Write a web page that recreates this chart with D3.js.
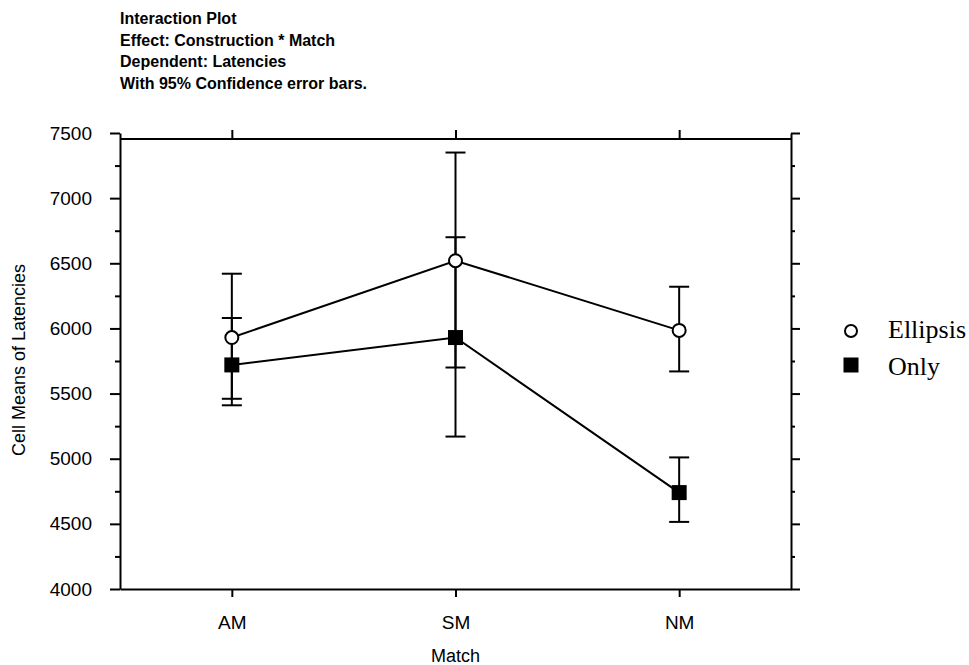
<!DOCTYPE html>
<html>
<head>
<meta charset="utf-8">
<script src="https://d3js.org/d3.v7.min.js"></script>
<style>
  body { margin: 0; background: #fff; }
  svg { display: block; }
  .axis text { font: 19px "Liberation Sans", Arial, sans-serif; fill: #000; }
  .axis path, .axis line { stroke: #000; stroke-width: 2px; fill: none; }
  .title { font: bold 16px "Liberation Sans", Arial, sans-serif; }
  .label { font: 18px "Liberation Sans", Arial, sans-serif; }
  .legend text { font: 26px "Liberation Serif", "Times New Roman", serif; }
</style>
</head>
<body>
<div id="chart"></div>
<script>
// data
var matches = ["AM", "SM", "NM"];
var seriesNames = ["Ellipsis", "Only"];
var ellipsisMean = [5930, 6520, 5985];
var ellipsisLow  = [5460, 5700, 5670];
var ellipsisHigh = [6420, 7350, 6320];
var onlyMean = [5720, 5930, 4740];
var onlyLow  = [5410, 5170, 4515];
var onlyHigh = [6080, 6700, 5010];
var yMajor = [4000, 4500, 5000, 5500, 6000, 6500, 7000, 7500];
var yMinor = [4250, 4750, 5250, 5750, 6250, 6750, 7250];
var titleLines = ["Interaction Plot", "Effect: Construction * Match",
                  "Dependent: Latencies", "With 95% Confidence error bars."];

var W = 969, H = 665;
var plotL = 120, plotR = 791, plotT = 133, plotB = 589;

var svg = d3.select("#chart").append("svg")
    .attr("width", W).attr("height", H);

var x = d3.scalePoint().domain(matches).range([plotL, plotR]).padding(0.5);
var y = d3.scaleLinear().domain([4000, 7500]).range([plotB, plotT]);

// title block
svg.selectAll(".title").data(titleLines).enter().append("text")
    .attr("class", "title")
    .attr("x", 120)
    .attr("y", function(d, i) { return 24 + i * 21.5; })
    .text(function(d) { return d; });

// frame top line (sits a little below the 7500 tick like the original)
svg.append("line")
    .attr("x1", plotL).attr("x2", plotR)
    .attr("y1", plotT + 6).attr("y2", plotT + 6)
    .attr("stroke", "#000").attr("stroke-width", 2);

// top ticks at categories
svg.append("g").attr("class", "axis")
    .attr("transform", "translate(0," + (plotT + 6) + ")")
    .call(d3.axisTop(x).tickSize(9).tickFormat("").tickSizeOuter(0))
    .select(".domain").remove();

// left axis
svg.append("g").attr("class", "axis")
    .attr("transform", "translate(" + plotL + ",0)")
    .call(d3.axisLeft(y).tickValues(yMajor).tickSize(10).tickPadding(18)
          .tickFormat(d3.format("d")).tickSizeOuter(0));
svg.append("g").attr("class", "axis")
    .attr("transform", "translate(" + plotL + ",0)")
    .call(d3.axisLeft(y).tickValues(yMinor).tickSize(5).tickFormat("").tickSizeOuter(0))
    .select(".domain").remove();

// right axis
svg.append("g").attr("class", "axis")
    .attr("transform", "translate(" + plotR + ",0)")
    .call(d3.axisRight(y).tickValues(yMajor).tickSize(9).tickFormat("").tickSizeOuter(0));
svg.append("g").attr("class", "axis")
    .attr("transform", "translate(" + plotR + ",0)")
    .call(d3.axisRight(y).tickValues(yMinor).tickSize(4).tickFormat("").tickSizeOuter(0))
    .select(".domain").remove();

// bottom axis
svg.append("g").attr("class", "axis")
    .attr("transform", "translate(0," + plotB + ")")
    .call(d3.axisBottom(x).tickSize(8).tickPadding(19).tickSizeOuter(0));

// axis titles
svg.append("text").attr("class", "label")
    .attr("text-anchor", "middle")
    .attr("transform", "translate(25,360) rotate(-90)")
    .text("Cell Means of Latencies");
svg.append("text").attr("class", "label")
    .attr("text-anchor", "middle")
    .attr("x", (plotL + plotR) / 2).attr("y", 662)
    .text("Match");

var series = [
  { name: seriesNames[0], mean: ellipsisMean, low: ellipsisLow, high: ellipsisHigh, shape: "circle" },
  { name: seriesNames[1], mean: onlyMean, low: onlyLow, high: onlyHigh, shape: "square" }
];

var line = d3.line()
    .x(function(d, i) { return x(matches[i]); })
    .y(function(d) { return y(d); });

// error bars
series.forEach(function(s) {
  var g = svg.append("g");
  matches.forEach(function(m, i) {
    var cx = x(m);
    g.append("line").attr("x1", cx).attr("x2", cx)
        .attr("y1", y(s.low[i])).attr("y2", y(s.high[i]))
        .attr("stroke", "#000").attr("stroke-width", 2);
    [s.low[i], s.high[i]].forEach(function(v) {
      g.append("line").attr("x1", cx - 10).attr("x2", cx + 10)
          .attr("y1", y(v)).attr("y2", y(v))
          .attr("stroke", "#000").attr("stroke-width", 2);
    });
  });
});

// lines
series.forEach(function(s) {
  svg.append("path").datum(s.mean)
      .attr("d", line)
      .attr("fill", "none").attr("stroke", "#000").attr("stroke-width", 2);
});

// markers
series.forEach(function(s) {
  s.mean.forEach(function(v, i) {
    if (s.shape === "circle") {
      svg.append("circle").attr("cx", x(matches[i])).attr("cy", y(v)).attr("r", 6.5)
          .attr("fill", "#fff").attr("stroke", "#000").attr("stroke-width", 2);
    } else {
      svg.append("rect").attr("x", x(matches[i]) - 7.5).attr("y", y(v) - 7.5)
          .attr("width", 15).attr("height", 15).attr("fill", "#000");
    }
  });
});

// legend
var legend = svg.append("g").attr("class", "legend");
series.forEach(function(s, i) {
  var ly = 331 + i * 34;
  if (s.shape === "circle") {
    legend.append("circle").attr("cx", 851).attr("cy", ly).attr("r", 6)
        .attr("fill", "#fff").attr("stroke", "#000").attr("stroke-width", 2);
  } else {
    legend.append("rect").attr("x", 843.5).attr("y", ly - 7.5).attr("width", 15).attr("height", 15)
        .attr("fill", "#000");
  }
  legend.append("text").attr("x", 888).attr("y", ly + 7 + i * 3).text(s.name);
});
</script>
</body>
</html>
